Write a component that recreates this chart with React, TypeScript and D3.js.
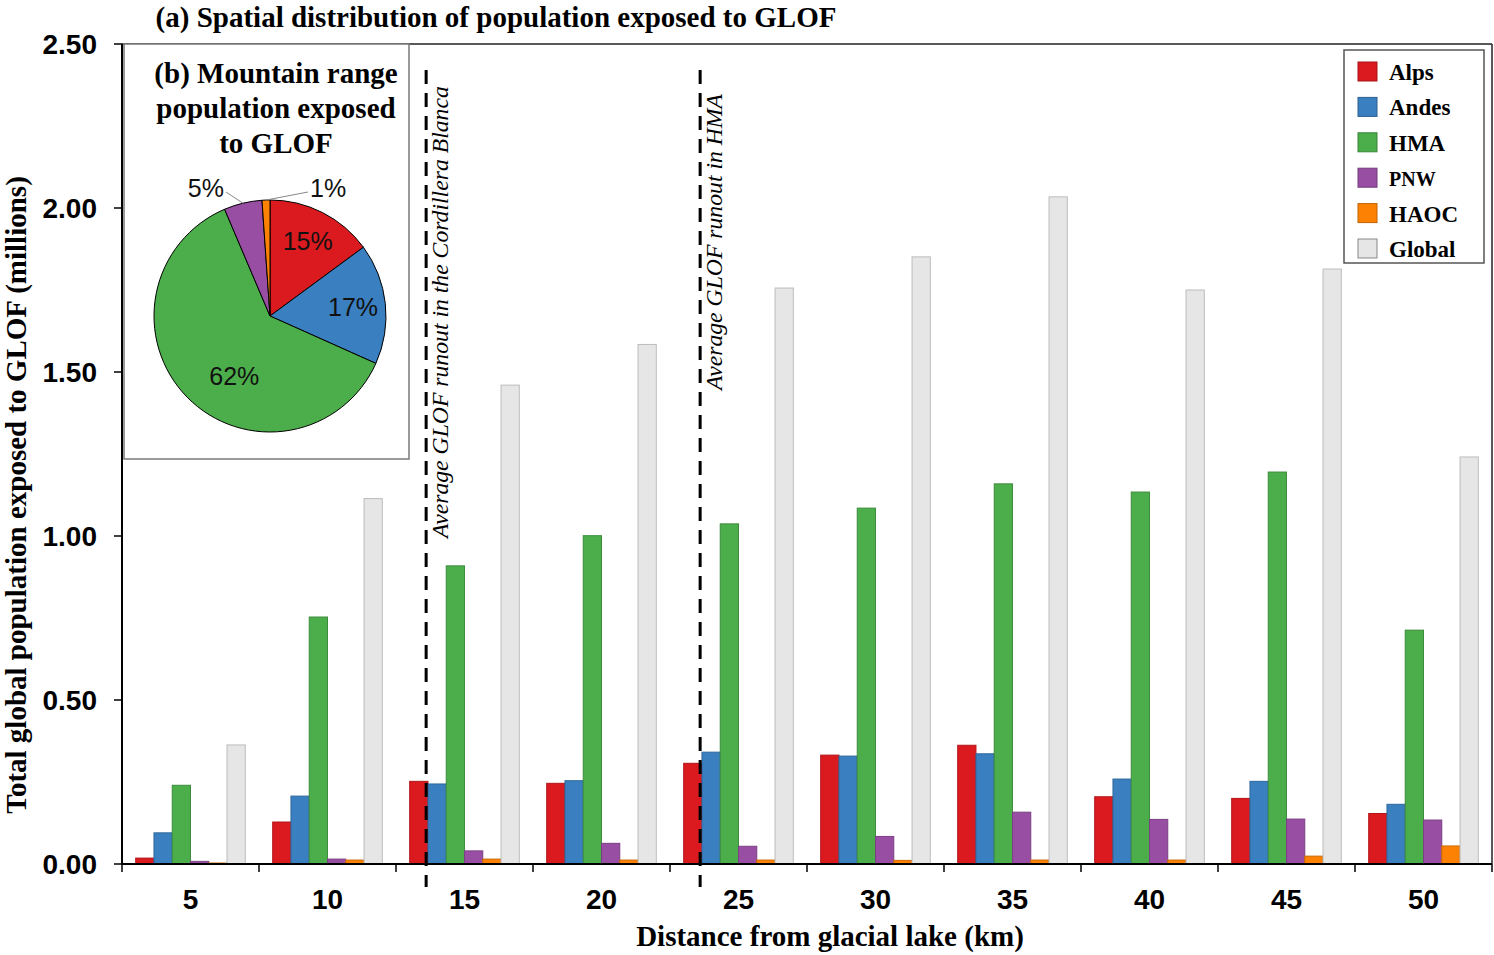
import * as d3 from 'd3';

// distance bins (km) and the population exposed per range (millions)
const distances = [5, 10, 15, 20, 25, 30, 35, 40, 45, 50];
const seriesNames = ['Alps', 'Andes', 'HMA', 'PNW', 'HAOC', 'Global'];
const seriesColors = ['#db1a1f', '#3a7fbf', '#4cae4a', '#984ea3', '#fd8204', '#e6e6e6'];

const alps = [0.018, 0.128, 0.252, 0.246, 0.307, 0.332, 0.362, 0.205, 0.200, 0.154];
const andes = [0.095, 0.207, 0.244, 0.254, 0.341, 0.329, 0.336, 0.259, 0.252, 0.182];
const hma = [0.240, 0.753, 0.909, 1.001, 1.037, 1.085, 1.159, 1.134, 1.195, 0.713];
const pnw = [0.008, 0.015, 0.040, 0.063, 0.054, 0.084, 0.158, 0.136, 0.137, 0.134];
const haoc = [0.003, 0.012, 0.015, 0.012, 0.012, 0.011, 0.012, 0.012, 0.024, 0.055];
const global = [0.363, 1.114, 1.460, 1.584, 1.756, 1.851, 2.034, 1.750, 1.814, 1.241];
const seriesValues = [alps, andes, hma, pnw, haoc, global];

const yTicks = [0, 0.5, 1.0, 1.5, 2.0, 2.5];

// average runout distances (km) shown as dashed markers
const runouts = [
  { km: 13.6, label: 'Average GLOF runout in the Cordillera Blanca' },
  { km: 23.6, label: 'Average GLOF runout in HMA' },
];

// inset pie: share of exposed population by mountain range
const pieNames = ['Alps', 'Andes', 'HMA', 'PNW', 'HAOC'];
const pieShares = [0.149, 0.168, 0.619, 0.053, 0.011];

const SERIF = '"Liberation Serif", "Times New Roman", serif';
const SANS = '"Liberation Sans", Arial, sans-serif';

export default function App() {
  const W = 1494;
  const H = 955;
  const left = 122;
  const right = 1492;
  const top = 44;
  const bottom = 864;

  const x = d3.scaleBand<number>().domain(distances).range([left, right]).padding(0);
  const inner = d3.scaleBand<string>().domain(seriesNames).range([0, x.bandwidth()]).paddingOuter(0.75).paddingInner(0);
  const y = d3.scaleLinear().domain([0, 2.5]).range([bottom, top]);
  const km = d3.scaleLinear().domain([2.5, 52.5]).range([left, right]);

  // inset box + pie
  const box = { x: 124, y: 44, w: 285, h: 415 };
  const cx = 270;
  const cy = 316;
  const R = 116;
  const pie = d3.pie<number>().sort(null).value((d) => d)(pieShares);
  const arc = d3.arc<d3.PieArcDatum<number>>().innerRadius(0).outerRadius(R);
  const labelArc = d3.arc<d3.PieArcDatum<number>>().innerRadius(R * 0.72).outerRadius(R * 0.72);
  const bigArc = d3.arc<d3.PieArcDatum<number>>().innerRadius(R * 0.6).outerRadius(R * 0.6);

  return (
    <div style={{ position: 'absolute', left: 0, top: 0, background: '#fff' }}>
      <svg width={W} height={H} style={{ display: 'block' }}>
        <rect width={W} height={H} fill="#fff" />

        {/* title */}
        <text x={496} y={27} textAnchor="middle" fontFamily={SERIF} fontWeight="bold" fontSize={29}>
          (a) Spatial distribution of population exposed to GLOF
        </text>

        {/* bars */}
        {distances.map((dist, i) => (
          <g key={dist} transform={`translate(${x(dist)},0)`}>
            {seriesNames.map((name, s) => {
              const v = seriesValues[s][i];
              const c = seriesColors[s];
              const stroke = name === 'Global' ? '#bcbcbc' : d3.color(c)!.darker(0.6).formatHex();
              return (
                <rect
                  key={name}
                  x={inner(name)}
                  y={y(v)}
                  width={inner.bandwidth()}
                  height={y(0) - y(v)}
                  fill={c}
                  stroke={stroke}
                  strokeWidth={1}
                />
              );
            })}
          </g>
        ))}

        {/* frame */}
        <line x1={left} x2={right} y1={top} y2={top} stroke="#222" strokeWidth={1.5} />
        <line x1={right} x2={right} y1={top} y2={bottom} stroke="#222" strokeWidth={1.5} />
        <line x1={left} x2={left} y1={top} y2={bottom} stroke="#000" strokeWidth={2} />
        <line x1={left} x2={right} y1={bottom} y2={bottom} stroke="#000" strokeWidth={2} />

        {/* y axis */}
        {yTicks.map((t) => (
          <g key={t}>
            <line x1={left - 8} x2={left} y1={y(t)} y2={y(t)} stroke="#000" strokeWidth={1.5} />
            <text x={97} y={y(t) + 10} textAnchor="end" fontFamily={SANS} fontWeight="bold" fontSize={28}>
              {t.toFixed(2)}
            </text>
          </g>
        ))}
        <text
          transform={`translate(26,495) rotate(-90)`}
          textAnchor="middle"
          fontFamily={SERIF}
          fontWeight="bold"
          fontSize={29}
        >
          Total global population exposed to GLOF (millions)
        </text>

        {/* x axis */}
        {[...distances.map((d) => x(d)!), right].map((px, i) => (
          <line key={i} x1={px} x2={px} y1={bottom} y2={bottom + 8} stroke="#000" strokeWidth={1.5} />
        ))}
        {distances.map((d) => (
          <text
            key={d}
            x={x(d)! + x.bandwidth() / 2}
            y={909}
            textAnchor="middle"
            fontFamily={SANS}
            fontWeight="bold"
            fontSize={28}
          >
            {d}
          </text>
        ))}
        <text x={830} y={946} textAnchor="middle" fontFamily={SERIF} fontWeight="bold" fontSize={29}>
          Distance from glacial lake (km)
        </text>

        {/* runout markers */}
        {runouts.map((r) => {
          const px = km(r.km);
          return (
            <g key={r.km}>
              <line x1={px} x2={px} y1={70} y2={887} stroke="#000" strokeWidth={3} strokeDasharray="14,9" />
              <text
                transform={`translate(${px + 22},${r.km < 20 ? 538 : 390}) rotate(-90)`}
                fontFamily={SERIF}
                fontStyle="italic"
                fontSize={23.7}
              >
                {r.label}
              </text>
            </g>
          );
        })}

        {/* inset pie */}
        <rect x={box.x} y={box.y} width={box.w} height={box.h} fill="#fff" stroke="#7a7a7a" strokeWidth={1.5} />
        {['(b) Mountain range', 'population exposed', 'to GLOF'].map((line, i) => (
          <text
            key={line}
            x={276}
            y={83 + i * 35}
            textAnchor="middle"
            fontFamily={SERIF}
            fontWeight="bold"
            fontSize={29}
          >
            {line}
          </text>
        ))}
        <g transform={`translate(${cx},${cy})`}>
          {pie.map((p, i) => (
            <path key={pieNames[i]} d={arc(p)!} fill={seriesColors[i]} stroke="#000" strokeWidth={1} />
          ))}
          {pie.map((p, i) => {
            const label = `${Math.round(p.value * 100)}%`;
            if (p.value >= 0.1) {
              const [lx, ly] = (p.value > 0.5 ? bigArc : labelArc).centroid(p);
              return (
                <text
                  key={i}
                  x={lx + (p.value > 0.5 ? 14 : 0)}
                  y={ly + (p.value > 0.5 ? 20 : 9)}
                  textAnchor="middle"
                  fontFamily={SANS}
                  fontSize={25}
                  fill="#111"
                >
                  {label}
                </text>
              );
            }
            // small slices: label above the pie with a leader line
            const mid = (p.startAngle + p.endAngle) / 2;
            const ex = Math.sin(mid) * R;
            const ey = -Math.cos(mid) * R;
            const onRight = i === pie.length - 1;
            const tx = onRight ? 40 : -46;
            const ty = -R - 12;
            return (
              <g key={i}>
                <line x1={ex} y1={ey} x2={tx + (onRight ? -2 : 2)} y2={ty + 4} stroke="#888" strokeWidth={1} />
                <text
                  x={tx}
                  y={ty + 9}
                  textAnchor={onRight ? 'start' : 'end'}
                  fontFamily={SANS}
                  fontSize={25}
                  fill="#111"
                >
                  {label}
                </text>
              </g>
            );
          })}
        </g>

        {/* legend */}
        <rect x={1344} y={50} width={140} height={213} fill="#fff" stroke="#555" strokeWidth={1.5} />
        {seriesNames.map((name, i) => {
          const cyL = 72 + i * 35.4;
          return (
            <g key={name}>
              <rect
                x={1358}
                y={cyL - 10}
                width={19}
                height={19}
                fill={seriesColors[i]}
                stroke={name === 'Global' ? '#888' : d3.color(seriesColors[i])!.darker(0.8).formatHex()}
                strokeWidth={1}
              />
              <text x={1389} y={cyL + 8} fontFamily={SERIF} fontWeight="bold" fontSize={name === 'PNW' ? 20 : 23}>
                {name}
              </text>
            </g>
          );
        })}
      </svg>
    </div>
  );
}
